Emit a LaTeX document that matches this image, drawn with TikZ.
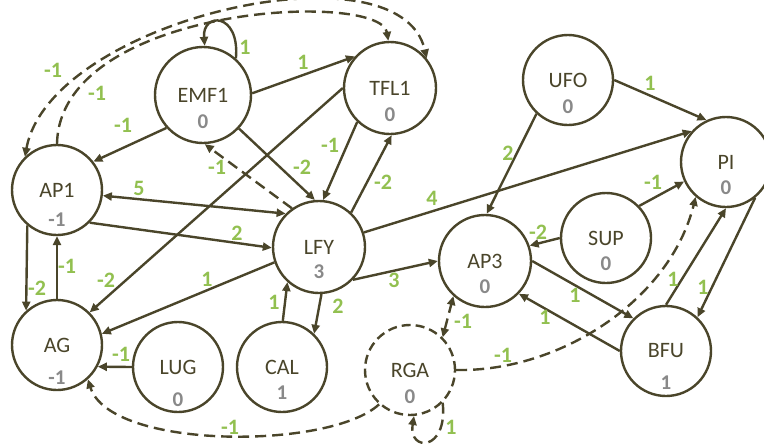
\documentclass[tikz,border=0pt]{standalone}
\usepackage{fontspec}
\setmainfont{Carlito}
\usetikzlibrary{arrows.meta}

\definecolor{linecol}{RGB}{74,69,42}
\definecolor{valgray}{RGB}{137,137,137}
\definecolor{wgreen}{RGB}{146,192,80}

\begin{document}
\begin{tikzpicture}[x=1pt, y=-1pt,
    >={Triangle[length=9pt,width=8pt]},
    gene/.style={circle, draw=linecol, line width=2.4pt, minimum size=90pt, inner sep=0pt,
                 text=linecol, font=\fontsize{22}{24}\selectfont},
    val/.style={text=valgray, font=\fontsize{21}{23}\selectfont\bfseries},
    lab/.style={text=wgreen, font=\fontsize{22}{24}\selectfont\bfseries},
    link/.style={draw=linecol, line width=2.4pt, ->},
    weak/.style={link, dash pattern=on 11pt off 6pt}]
    \useasboundingbox (0,0) rectangle (764,445);

    % Genes
    \node[gene, minimum size=96pt] (emf) at (203,95) {EMF1};
    \node[gene, minimum size=92pt] (tfl) at (390,88) {TFL1};
    \node[gene] (ap1) at (57,190) {AP1};
    \node[gene, minimum size=92pt] (lfy) at (319,247) {LFY};
    \node[gene] (ag) at (57,345) {AG};
    \node[gene] (lug) at (178,367) {LUG};
    \node[gene] (cal) at (282,367) {CAL};
    \node[gene, dash pattern=on 9pt off 5pt] (rga) at (410,370) {RGA};
    \node[gene, minimum size=92pt] (ap3) at (485,261) {AP3};
    \node[gene] (sup) at (606,238) {SUP};
    \node[gene] (bfu) at (666,351) {BFU};
    \node[gene] (ufo) at (568,80) {UFO};
    \node[gene] (pi) at (726,162) {PI};

    % Values
    \node[val] (emfv) at (203,122) {0};
    \node[val] (tflv) at (390,115) {0};
    \node[val] (ap1v) at (57,220) {-1};
    \node[val] (lfyv) at (319,272) {3};
    \node[val] (agv) at (57,378) {-1};
    \node[val] (lugv) at (178,400) {0};
    \node[val] (calv) at (282,393) {1};
    \node[val] (rgav) at (410,397) {0};
    \node[val] (ap3v) at (485,287) {0};
    \node[val] (supv) at (606,264) {0};
    \node[val] (bfuv) at (666,383) {1};
    \node[val] (ufov) at (568,107) {0};
    \node[val] (piv) at (726,188) {0};

    % Solid connectors
    \draw[link] (emf.48) .. controls (240,12) and (202,12) .. (emf.88);
    \draw[link] (emf.2) -- (tfl.138);
    \draw[link] (emf.222) -- (ap1.38);
    \draw[link] (emf.-43) -- (lfy.95);
    \draw[link] (tfl.226) -- (lfy.85);
    \draw[link] (lfy.47) -- (tfl.-88);
    \draw[link] (tfl.180) -- (ag.45);
    \draw[link, <->] (ap1.-7) -- (lfy.135);
    \draw[link] (ap1.-45) -- (lfy.181);
    \draw[link] (ap1.230) -- (ag.132);
    \draw[link] (ag.90) -- (ap1.270);
    \draw[link] (lfy.199) -- (ag.14);
    \draw[link] (lug.180) -- (ag.-28);
    \draw[link] (cal.89) -- (lfy.228);
    \draw[link] (lfy.-87) -- (cal.46);
    \draw[link] (lfy.-44) -- (ap3.180);
    \draw[link] (lfy.18) -- (pi.138);
    \draw[link] (ufo.227) -- (ap3.88);
    \draw[link] (ufo.0) -- (pi.115);
    \draw[link] (sup.44) -- (pi.205);
    \draw[link] (sup.180) -- (ap3.19);
    \draw[link] (ap3.0) -- (bfu.135);
    \draw[link] (bfu.180) -- (ap3.-44);
    \draw[link] (bfu.90) -- (pi.-90);
    \draw[link] (pi.-51) -- (bfu.47);

    % Dashed connectors
    \draw[weak, <->] (ap1.134) .. controls (50,20) and (400,-60) .. (tfl.39);
    \draw[weak] (ap1.90) .. controls (60,5) and (380,-10) .. (tfl.92);
    \draw[weak] (lfy.125) -- (emf.-88);
    \draw[weak] (rga.0) .. controls (560,372) and (670,300) .. (pi.229);
    \draw[weak, <->] (rga.45) -- (ap3.228);
    \draw[weak] (rga.228) .. controls (330,450) and (110,450) .. (ag.-48);
    \draw[weak] (rga.-45) .. controls (448,452) and (408,452) .. (rga.-85);

    % Weights
    \foreach \x/\y/\w [count=\i] in {245/47/1, 303/62/1, 53/70/-1, 97/93/-1, 123/125/-1,
        217/167/-1, 302/167/-2, 330/145/-1, 383/182/-2, 139/188/5, 432/198/4,
        237/233/2, 37/288/-2, 67/266/-1, 106/280/-2, 207/279/1, 121/354/-1,
        274/302/1, 338/306/2, 394/280/3, 230/427/-1, 451/427/1, 463/321/-1,
        503/355/-1, 538/232/-2, 575/295/1, 545/317/1, 673/279/1, 703/287/1,
        508/153/2, 650/83/1, 653/182/-1}
        \node[lab] (w\i) at (\x,\y) {\w};
\end{tikzpicture}
\end{document}
